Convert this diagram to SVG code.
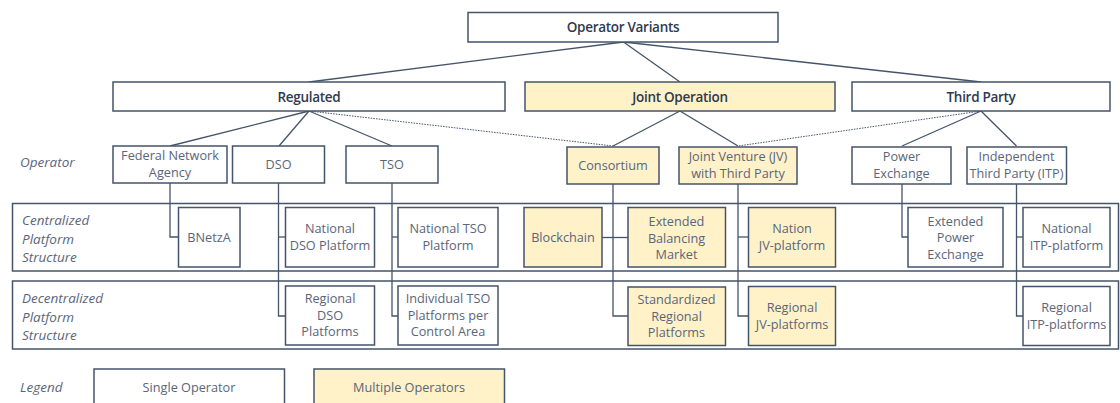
<svg xmlns="http://www.w3.org/2000/svg" width="1120" height="403" viewBox="0 0 1120 403">
<style>
.box{fill:#ffffff;stroke:#44546a;stroke-width:1.5}
.multi{fill:#fff2c9;stroke:#44546a;stroke-width:1.5}
.band{fill:none;stroke:#44546a;stroke-width:1.5}
.t{font-family:"Open Sans","Noto Sans",sans-serif;font-size:12.7px;fill:#5a657a;text-anchor:middle}
.h{font-family:"Open Sans","Noto Sans",sans-serif;font-size:13.5px;font-weight:600;fill:#2e3a4e;text-anchor:middle;letter-spacing:-0.3px}
.lbl{font-family:"Open Sans","Noto Sans",sans-serif;font-size:13.5px;font-style:italic;fill:#5a657a}
.c{fill:none;stroke:#44546a;stroke-width:1.3}
.d{fill:none;stroke:#44546a;stroke-width:1;stroke-dasharray:1.5 1.2}
</style>
<g id="bands">
<rect class="band" x="12.5" y="203.5" width="1106" height="67.5"/>
<rect class="band" x="12.5" y="281" width="1106" height="68"/>
</g>
<g id="labels">
<text class="lbl" x="20" y="167">Operator</text>
<text class="lbl" x="22" y="225">Centralized</text>
<text class="lbl" x="22" y="243.5">Platform</text>
<text class="lbl" x="22" y="262">Structure</text>
<text class="lbl" x="22" y="303">Decentralized</text>
<text class="lbl" x="22" y="321.5">Platform</text>
<text class="lbl" x="22" y="340">Structure</text>
<text class="lbl" x="20" y="392">Legend</text>
</g>
<g id="connectors">
<line class="c" x1="623.5" y1="42" x2="309" y2="82"/>
<line class="c" x1="623.5" y1="42" x2="680" y2="82"/>
<line class="c" x1="623.5" y1="42" x2="981" y2="82"/>
<line class="c" x1="309" y1="111" x2="170" y2="146"/>
<line class="c" x1="309" y1="111" x2="279" y2="146"/>
<line class="c" x1="309" y1="111" x2="392" y2="146"/>
<line class="d" x1="309" y1="111" x2="613" y2="146"/>
<line class="c" x1="680" y1="111" x2="613" y2="146"/>
<line class="c" x1="680" y1="111" x2="738" y2="146"/>
<line class="d" x1="981" y1="111" x2="738" y2="146"/>
<line class="c" x1="981" y1="111" x2="902" y2="146"/>
<line class="c" x1="981" y1="111" x2="1016.5" y2="146"/>
<polyline class="c" points="170,183 170,237 178.5,237"/>
<polyline class="c" points="278.5,183 278.5,316 285.5,316"/>
<line class="c" x1="278.5" y1="237" x2="285.5" y2="237"/>
<polyline class="c" points="392,183 392,316 398,316"/>
<line class="c" x1="392" y1="237" x2="398" y2="237"/>
<polyline class="c" points="613,184 613,316 628,316"/>
<line class="c" x1="602" y1="237.5" x2="628" y2="237.5"/>
<polyline class="c" points="738,184 738,316 748.5,316"/>
<line class="c" x1="738" y1="237" x2="748.5" y2="237"/>
<polyline class="c" points="902,184 902,237 908,237"/>
<polyline class="c" points="1016.5,184 1016.5,316 1023,316"/>
<line class="c" x1="1016.5" y1="237" x2="1023" y2="237"/>
</g>
<g id="operator-variants"><rect class="box" x="468" y="12.5" width="310" height="29.5"/><text class="h" x="623" y="32">Operator Variants</text></g>
<g id="regulated"><rect class="box" x="113" y="82" width="392" height="29"/><text class="h" x="309" y="101.5">Regulated</text></g>
<g id="joint-operation"><rect class="multi" x="525" y="82" width="310" height="29"/><text class="h" x="680" y="101.5">Joint Operation</text></g>
<g id="third-party"><rect class="box" x="852" y="82" width="258" height="29"/><text class="h" x="981" y="101.5">Third Party</text></g>
<g id="federal"><rect class="box" x="113" y="146" width="114" height="37"/><text class="t" x="170" y="160">Federal Network</text><text class="t" x="170" y="177">Agency</text></g>
<g id="dso"><rect class="box" x="232.5" y="146" width="92" height="37"/><text class="t" x="278.5" y="169">DSO</text></g>
<g id="tso"><rect class="box" x="346" y="146" width="92" height="37"/><text class="t" x="392" y="169">TSO</text></g>
<g id="consortium"><rect class="multi" x="567" y="147" width="92" height="37"/><text class="t" x="613" y="170">Consortium</text></g>
<g id="jv"><rect class="multi" x="679" y="147" width="118" height="37"/><text class="t" x="738" y="161">Joint Venture (JV)</text><text class="t" x="738" y="178">with Third Party</text></g>
<g id="power-exchange"><rect class="box" x="852" y="147" width="99" height="37"/><text class="t" x="901.5" y="161">Power</text><text class="t" x="901.5" y="178">Exchange</text></g>
<g id="itp"><rect class="box" x="967" y="147" width="99.5" height="37"/><text class="t" x="1016.5" y="161">Independent</text><text class="t" x="1016.5" y="178">Third Party (ITP)</text></g>
<g id="bnetza"><rect class="box" x="178.5" y="207.5" width="61.5" height="59.5"/><text class="t" x="209" y="241.5">BNetzA</text></g>
<g id="national-dso"><rect class="box" x="285.5" y="207.5" width="89" height="59.5"/><text class="t" x="330" y="233">National</text><text class="t" x="330" y="250">DSO Platform</text></g>
<g id="national-tso"><rect class="box" x="398" y="207.5" width="100" height="59.5"/><text class="t" x="448" y="233">National TSO</text><text class="t" x="448" y="250">Platform</text></g>
<g id="blockchain"><rect class="multi" x="524" y="207.5" width="78" height="59.5"/><text class="t" x="563" y="241.5">Blockchain</text></g>
<g id="extended-balancing"><rect class="multi" x="628" y="207.5" width="97.5" height="59.5"/><text class="t" x="676.5" y="226">Extended</text><text class="t" x="676.5" y="242.5">Balancing</text><text class="t" x="676.5" y="259">Market</text></g>
<g id="nation-jv"><rect class="multi" x="748.5" y="207.5" width="87" height="59.5"/><text class="t" x="792" y="233">Nation</text><text class="t" x="792" y="250">JV-platform</text></g>
<g id="extended-power"><rect class="box" x="908" y="207.5" width="95" height="59.5"/><text class="t" x="955.5" y="225.5">Extended</text><text class="t" x="955.5" y="242">Power</text><text class="t" x="955.5" y="258.5">Exchange</text></g>
<g id="national-itp"><rect class="box" x="1023" y="207.5" width="87" height="59.5"/><text class="t" x="1066.5" y="233">National</text><text class="t" x="1066.5" y="250">ITP-platform</text></g>
<g id="regional-dso"><rect class="box" x="285.5" y="286" width="89" height="59"/><text class="t" x="330" y="303">Regional</text><text class="t" x="330" y="319.5">DSO</text><text class="t" x="330" y="336">Platforms</text></g>
<g id="individual-tso"><rect class="box" x="398" y="286" width="100" height="59"/><text class="t" x="448" y="303">Individual TSO</text><text class="t" x="448" y="319.5">Platforms per</text><text class="t" x="448" y="336">Control Area</text></g>
<g id="standardized-regional"><rect class="multi" x="628" y="287" width="97.5" height="58.5"/><text class="t" x="676.5" y="304">Standardized</text><text class="t" x="676.5" y="320.5">Regional</text><text class="t" x="676.5" y="337">Platforms</text></g>
<g id="regional-jv"><rect class="multi" x="748.5" y="286.5" width="87" height="59"/><text class="t" x="792" y="312">Regional</text><text class="t" x="792" y="329">JV-platforms</text></g>
<g id="regional-itp"><rect class="box" x="1023" y="286.5" width="87" height="59"/><text class="t" x="1066.5" y="312">Regional</text><text class="t" x="1066.5" y="329">ITP-platforms</text></g>
<g id="legend-single"><rect class="box" x="94" y="369" width="190.5" height="40"/><text class="t" x="189" y="391.5">Single Operator</text></g>
<g id="legend-multiple"><rect class="multi" x="314" y="369" width="190.5" height="40"/><text class="t" x="409" y="391.5">Multiple Operators</text></g>
</svg>
